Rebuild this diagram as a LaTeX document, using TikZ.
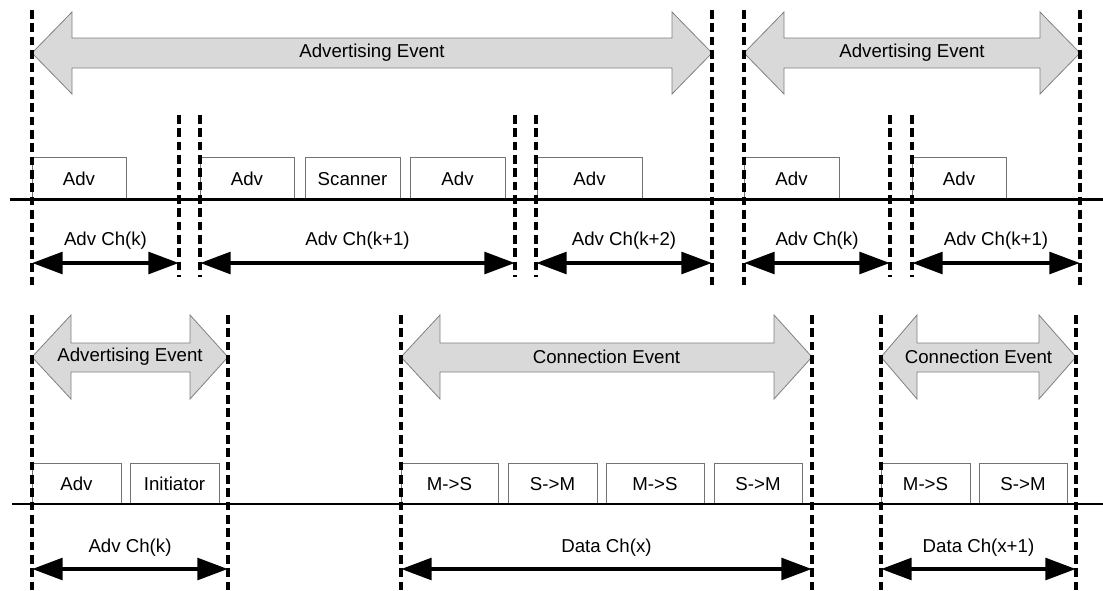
\documentclass[tikz,border=0pt]{standalone}
\usepackage{fontspec}
\setmainfont{Liberation Sans}
\usetikzlibrary{arrows.meta}

\begin{document}
\begin{tikzpicture}[x=0.75pt,y=-0.75pt]
\tikzstyle{every node}=[font=\fontsize{14}{17}\selectfont,inner sep=0pt]
\tikzstyle{bound}=[black,line width=2.8pt,dash pattern=on 6.5pt off 3.5pt]
\tikzstyle{axis}=[black,line width=1.6pt]
\tikzstyle{pkt}=[draw=black!55,line width=0.6pt]
\tikzstyle{event}=[draw=black!50,fill=black!15,line width=0.6pt]
\tikzstyle{chan}=[black,line width=3.6pt,{Triangle[length=23pt,width=16pt]}-{Triangle[length=23pt,width=16pt]}]
\useasboundingbox (0,0) rectangle (1103,590);

% event arrows, top
\draw[event] (32,53) -- (72,12) -- (72,38) -- (672,38) -- (672,12) -- (712,53) -- (672,94) -- (672,68) -- (72,68) -- (72,94) -- cycle;
\node (ev1) at (372,53) {Advertising Event};
\draw[event] (744,53) -- (784,12) -- (784,38) -- (1040,38) -- (1040,12) -- (1080,53) -- (1040,94) -- (1040,68) -- (784,68) -- (784,94) -- cycle;
\node (ev2) at (912,53) {Advertising Event};

% event arrows, bottom
\draw[event] (32,357) -- (71,315) -- (71,343) -- (190,343) -- (190,315) -- (228,357) -- (190,399) -- (190,372) -- (71,372) -- (71,399) -- cycle;
\node (ev3) at (130,357) {Advertising Event};
\draw[event] (401,357) -- (440,315) -- (440,343) -- (774,343) -- (774,315) -- (812,357) -- (774,399) -- (774,372) -- (440,372) -- (440,399) -- cycle;
\node (ev4) at (606.5,357) {Connection Event};
\draw[event] (881,357) -- (917,315) -- (917,343) -- (1039,343) -- (1039,315) -- (1076,357) -- (1039,399) -- (1039,372) -- (917,372) -- (917,399) -- cycle;
\node (ev5) at (978.5,357) {Connection Event};

% packets, top
\draw[pkt] (32,199) |- (126,157) -- (126,199);
\node (p1) at (79,179) {Adv};
\draw[pkt] (200,199) |- (294,157) -- (294,199);
\node (p2) at (247,179) {Adv};
\draw[pkt] (305,199) |- (400,157) -- (400,199);
\node (p3) at (352.5,179) {Scanner};
\draw[pkt] (410,199) |- (505,157) -- (505,199);
\node (p4) at (457.5,179) {Adv};
\draw[pkt] (537,199) |- (642,157) -- (642,199);
\node (p5) at (589.5,179) {Adv};
\draw[pkt] (744,199) |- (839,157) -- (839,199);
\node (p6) at (791.5,179) {Adv};
\draw[pkt] (912,199) |- (1006,157) -- (1006,199);
\node (p7) at (959,179) {Adv};

% packets, bottom
\draw[pkt] (32,504) |- (121,463) -- (121,504);
\node (q1) at (76.5,484) {Adv};
\draw[pkt] (130,504) |- (219,463) -- (219,504);
\node (q2) at (174.5,484) {Initiator};
\draw[pkt] (401,504) |- (498,463) -- (498,504);
\node (q3) at (449.5,484) {M->S};
\draw[pkt] (508,504) |- (597,463) -- (597,504);
\node (q4) at (552.5,484) {S->M};
\draw[pkt] (606,504) |- (704,463) -- (704,504);
\node (q5) at (655,484) {M->S};
\draw[pkt] (714,504) |- (802,463) -- (802,504);
\node (q6) at (758,484) {S->M};
\draw[pkt] (881,504) |- (970,463) -- (970,504);
\node (q7) at (925.5,484) {M->S};
\draw[pkt] (979,504) |- (1067,463) -- (1067,504);
\node (q8) at (1023,484) {S->M};

% air lines
\draw[axis] (10,199.5) -- (1103,199.5);
\draw[axis] (12,504) -- (1103,504);

% event and channel boundaries
\draw[bound] (32,10) -- (32,285);
\draw[bound] (712,10) -- (712,285);
\draw[bound] (744,10) -- (744,285);
\draw[bound] (1080,10) -- (1080,285);
\draw[bound] (179,115) -- (179,277);
\draw[bound] (200,115) -- (200,277);
\draw[bound] (515,115) -- (515,277);
\draw[bound] (536,115) -- (536,277);
\draw[bound] (890,115) -- (890,277);
\draw[bound] (912,115) -- (912,277);
\draw[bound] (32,315) -- (32,590);
\draw[bound] (228,315) -- (228,590);
\draw[bound] (401,315) -- (401,590);
\draw[bound] (812,315) -- (812,590);
\draw[bound] (881,315) -- (881,590);
\draw[bound] (1076,315) -- (1076,590);

% channels
\coordinate (a0) at (32,263);
\coordinate (a1) at (179,263);
\coordinate (a2) at (200,263);
\coordinate (a3) at (515,263);
\coordinate (a4) at (536,263);
\coordinate (a5) at (712,263);
\coordinate (a6) at (744,263);
\coordinate (a7) at (890,263);
\coordinate (a8) at (912,263);
\coordinate (a9) at (1080,263);
\coordinate (b0) at (32,569);
\coordinate (b1) at (228,569);
\coordinate (b2) at (401,569);
\coordinate (b3) at (812,569);
\coordinate (b4) at (881,569);
\coordinate (b5) at (1076,569);

\draw[chan] (a0) -- (a1);
\draw[chan] (a2) -- (a3);
\draw[chan] (a4) -- (a5);
\draw[chan] (a6) -- (a7);
\draw[chan] (a8) -- (a9);
\draw[chan] (b0) -- (b1);
\draw[chan] (b2) -- (b3);
\draw[chan] (b4) -- (b5);

\node (c1) at (105.5,241) {Adv Ch(k)};
\node (c2) at (357.5,241) {Adv Ch(k+1)};
\node (c3) at (624,241) {Adv Ch(k+2)};
\node (c4) at (817,241) {Adv Ch(k)};
\node (c5) at (996,241) {Adv Ch(k+1)};
\node (d1) at (130,548) {Adv Ch(k)};
\node (d2) at (606.5,548) {Data Ch(x)};
\node (d3) at (978.5,548) {Data Ch(x+1)};
\end{tikzpicture}
\end{document}
